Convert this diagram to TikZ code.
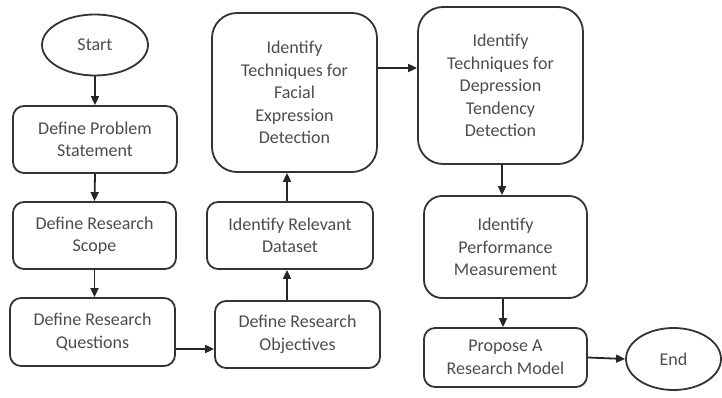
\documentclass[tikz,border=0pt]{standalone}
\usepackage{fontspec}
\setmainfont{Carlito}
\usetikzlibrary{shapes.geometric,arrows.meta,calc}
\begin{document}
\begin{tikzpicture}[x=1pt,y=-1pt,
  every node/.style={font=\fontsize{18}{22.5}\selectfont, text=black!70, align=center, inner sep=0pt},
  stepbox/.style={draw=black!80, line width=1.8pt, rounded corners=11pt, minimum width=#1},
  stepbox/.default=164pt,
  oval/.style={draw=black!80, line width=1.8pt, ellipse},
  arr/.style={draw=black!85, line width=1.8pt, -{Triangle[length=9pt,width=8pt]}}
]
\useasboundingbox (0,0) rectangle (722,398);
\node[oval, minimum width=106pt, minimum height=61pt] (start) at (95,45) {Start};
\node[stepbox, minimum height=67pt] (prob) at (95,139.5) {Define Problem\\Statement};
\node[stepbox=163pt, minimum height=67pt] (scope) at (94.5,235.5) {Define Research\\Scope};
\node[stepbox=165pt, minimum height=68pt] (quest) at (92.5,332) {Define Research\\Questions};
\node[stepbox=165pt, minimum height=67pt] (obj) at (297.5,334.5) {Define Research\\Objectives};
\node[stepbox=166pt, minimum height=67pt] (data) at (290,235.5) {Identify Relevant\\Dataset};
\node[stepbox=165pt, minimum height=159pt, rounded corners=25pt] (facial) at (294.5,92.5) {Identify\\Techniques for\\Facial\\Expression\\Detection};
\node[stepbox=165pt, minimum height=157pt, rounded corners=25pt] (depr) at (500.5,85.5) {Identify\\Techniques for\\Depression\\Tendency\\Detection};
\node[stepbox=163pt, minimum height=102pt, rounded corners=18pt] (perf) at (505.5,247) {Identify\\Performance\\Measurement};
\node[stepbox=163pt, minimum height=59pt] (prop) at (505.5,357.5) {Propose A\\Research Model};
\node[oval, minimum width=95pt, minimum height=62pt] (end) at (673.5,359) {End};

\draw[arr] (start.south) -- (prob.north);
\draw[arr] (prob.south) -- (scope.north);
\draw[arr] (scope.south) -- (scope.south |- quest.north);
\coordinate (qo) at ([yshift=-17pt]quest.east);
\draw[arr] (qo) -- (qo -| obj.west);
\coordinate (od) at ([xshift=-10.5pt]obj.north);
\draw[arr] (od) -- (od |- data.south);
\coordinate (df) at ([xshift=-3pt]data.north);
\draw[arr] (df) -- (df |- facial.south);
\coordinate (fd) at ([yshift=24.5pt]facial.east);
\draw[arr] (fd) -- (fd -| depr.west);
\coordinate (dp) at ([xshift=1.5pt]depr.south);
\draw[arr] (dp) -- (dp |- perf.north);
\coordinate (pp) at ([xshift=-2.5pt]perf.south);
\draw[arr] (pp) -- (pp |- prop.north);
\draw[arr] (prop.east) -- (end.west);
\end{tikzpicture}
\end{document}
